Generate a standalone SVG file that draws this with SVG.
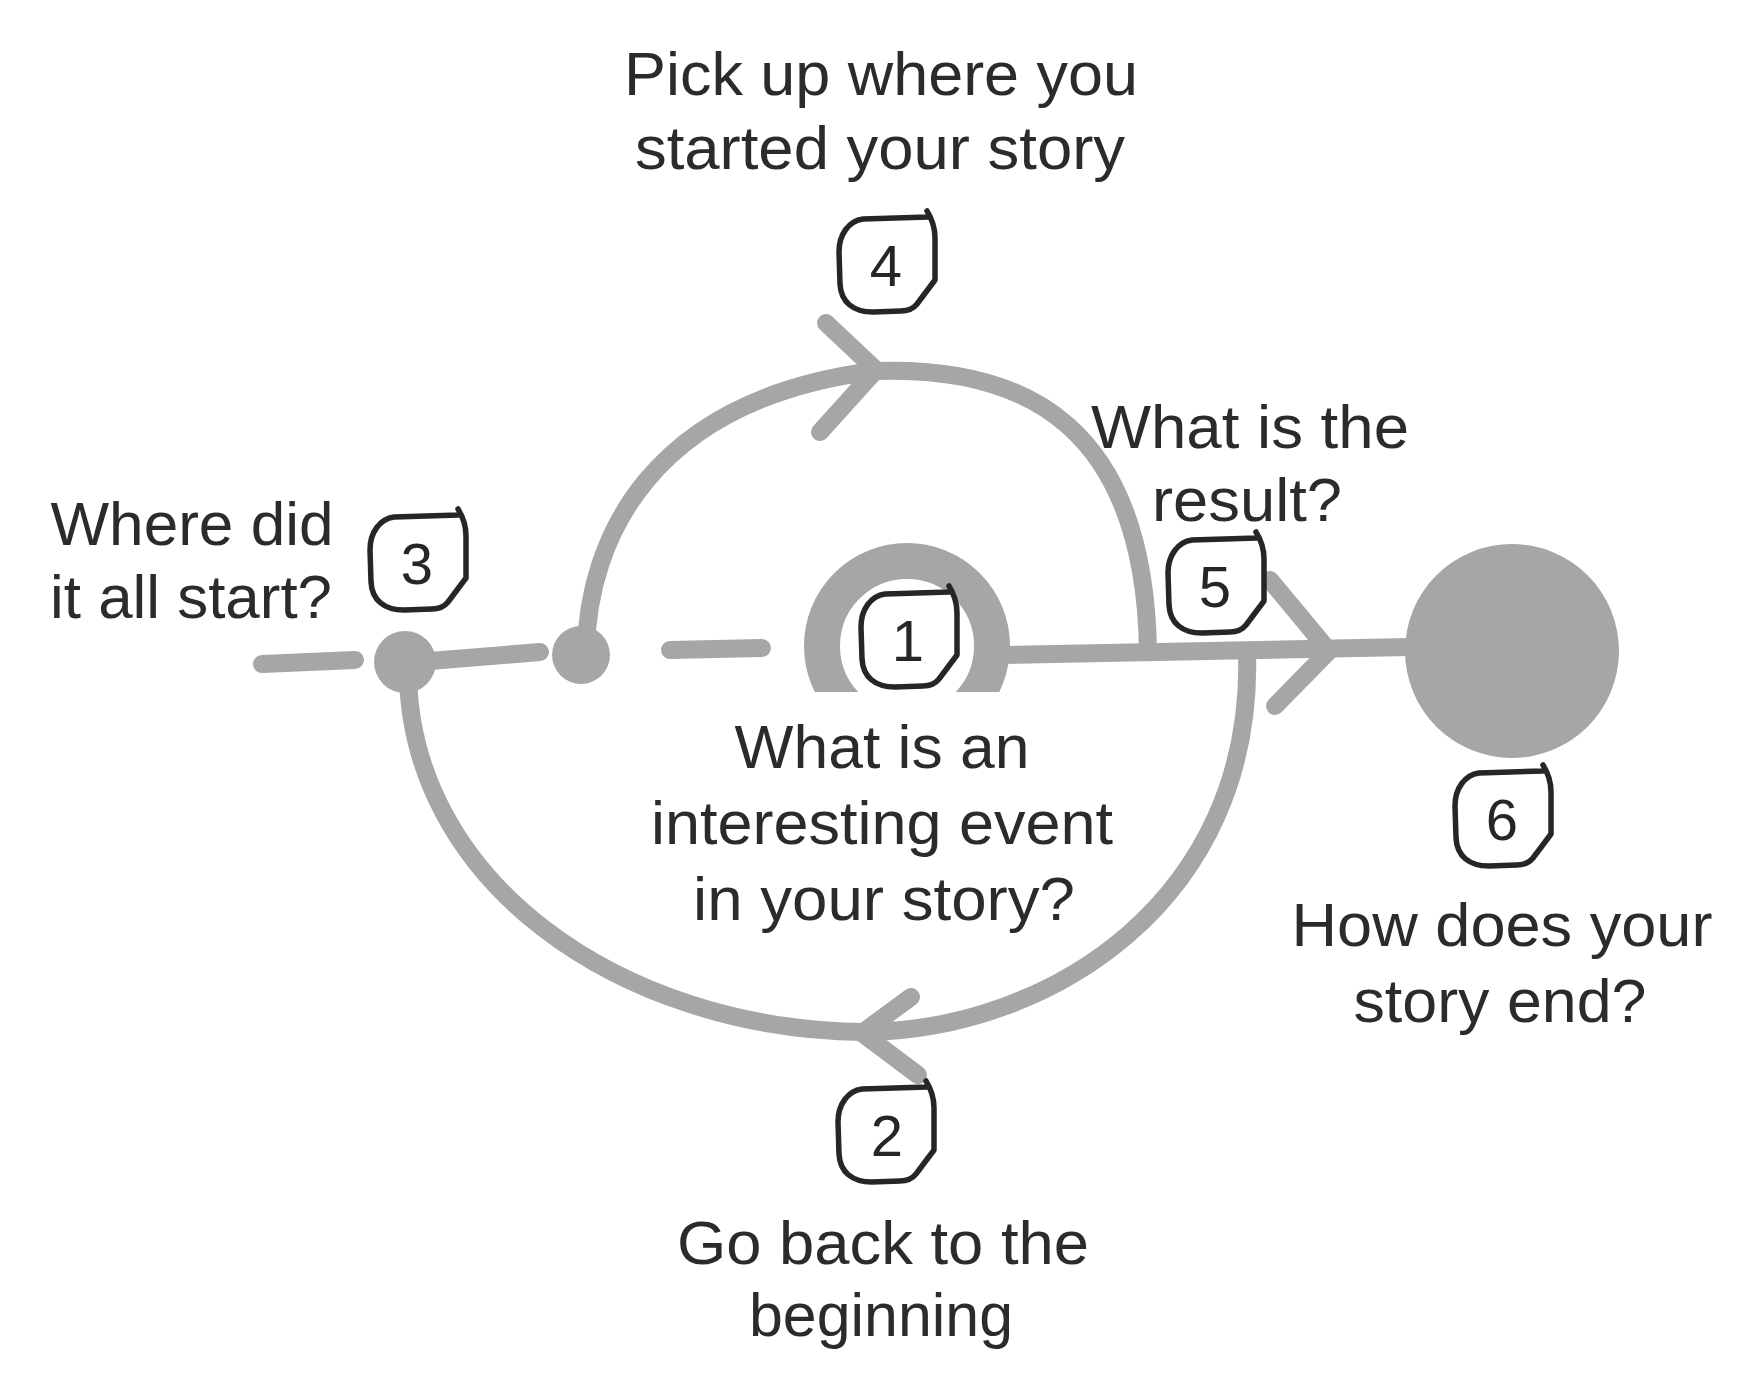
<svg xmlns="http://www.w3.org/2000/svg" xmlns:xlink="http://www.w3.org/1999/xlink" width="1746" height="1392" viewBox="0 0 1746 1392">
<style>
.conn{fill:none;stroke:#a6a6a6;stroke-width:18;stroke-linecap:round;stroke-linejoin:round}
.dot{fill:#a6a6a6}
.badge{fill:#ffffff;stroke:#262626;stroke-width:5.5;stroke-linejoin:round;stroke-linecap:round}
.num{font-family:"Liberation Sans",Arial,sans-serif;font-size:58px;fill:#262626;text-anchor:middle}
.lbl{font-family:"Liberation Sans",Arial,sans-serif;font-size:62px;fill:#2b2b2b;text-anchor:middle}
</style>
<defs>
<g id="badgeShape">
<path class="badge" d="M 41 -47 L -24 -45 C -38 -43 -48 -30 -48 -12 L -47 20 C -46 38 -34 48 -14 48 L 14 47 C 20 47 26 45 30 40 L 48 16 L 48 -26 C 48 -36 45 -45 40 -53"/>
</g>
<clipPath id="arcClip"><rect x="0" y="0" width="1746" height="692"/></clipPath>
</defs>
<rect width="1746" height="1392" fill="#ffffff"/>

<g id="connectors">
<path class="conn" d="M 262 664 L 355 660"/>
<path class="conn" d="M 430 661 L 540 652"/>
<path class="conn" d="M 670 650 L 762 648"/>
<path class="conn" d="M 586 650 C 588 540 650 400 874 371 C 1030 365 1145 430 1148 652"/>
<path class="conn" d="M 826 323 L 876 370 L 820 432"/>
<path class="conn" d="M 1247 652 C 1255 900 1050 1030 865 1032 C 620 1030 405 880 408 665"/>
<path class="conn" d="M 911 997 L 862 1033 L 918 1075"/>
<path class="conn" d="M 1005 655 L 1410 647"/>
<path class="conn" d="M 1270 580 L 1329 651 L 1275 706"/>
</g>

<g id="node-arc1">
<circle cx="907" cy="646" r="85" fill="none" stroke="#a6a6a6" stroke-width="36" clip-path="url(#arcClip)"/>
</g>

<g id="node-dot3"><circle class="dot" cx="405" cy="662" r="31"/></g>
<g id="node-dot-small"><circle class="dot" cx="581" cy="655" r="29"/></g>
<g id="node-end"><circle class="dot" cx="1512" cy="651" r="107"/></g>

<g id="node-1">
<use xlink:href="#badgeShape" transform="translate(909,639)"/>
<text class="num" x="908" y="661">1</text>
<text class="lbl" x="882" y="768" textLength="295" lengthAdjust="spacingAndGlyphs">What is an</text>
<text class="lbl" x="882" y="844" textLength="462" lengthAdjust="spacingAndGlyphs">interesting event</text>
<text class="lbl" x="884" y="920" textLength="382" lengthAdjust="spacingAndGlyphs">in your story?</text>
</g>

<g id="node-2">
<use xlink:href="#badgeShape" transform="translate(886,1134)"/>
<text class="num" x="887" y="1156">2</text>
<text class="lbl" x="883" y="1264" textLength="412" lengthAdjust="spacingAndGlyphs">Go back to the</text>
<text class="lbl" x="881" y="1336" textLength="264" lengthAdjust="spacingAndGlyphs">beginning</text>
</g>

<g id="node-3">
<use xlink:href="#badgeShape" transform="translate(418,562)"/>
<text class="num" x="417" y="584">3</text>
<text class="lbl" x="192" y="545" textLength="283" lengthAdjust="spacingAndGlyphs">Where did</text>
<text class="lbl" x="191" y="618" textLength="282" lengthAdjust="spacingAndGlyphs">it all start?</text>
</g>

<g id="node-4">
<use xlink:href="#badgeShape" transform="translate(887,264)"/>
<text class="num" x="886" y="286">4</text>
<text class="lbl" x="881" y="95" textLength="514" lengthAdjust="spacingAndGlyphs">Pick up where you</text>
<text class="lbl" x="880" y="169" textLength="490" lengthAdjust="spacingAndGlyphs">started your story</text>
</g>

<g id="node-5">
<use xlink:href="#badgeShape" transform="translate(1216,585)"/>
<text class="num" x="1215" y="607">5</text>
<text class="lbl" x="1250" y="448" textLength="318" lengthAdjust="spacingAndGlyphs">What is the</text>
<text class="lbl" x="1247" y="521" textLength="190" lengthAdjust="spacingAndGlyphs">result?</text>
</g>

<g id="node-6">
<use xlink:href="#badgeShape" transform="translate(1503,818)"/>
<text class="num" x="1502" y="840">6</text>
<text class="lbl" x="1502" y="946" textLength="421" lengthAdjust="spacingAndGlyphs">How does your</text>
<text class="lbl" x="1500" y="1022" textLength="293" lengthAdjust="spacingAndGlyphs">story end?</text>
</g>
</svg>
